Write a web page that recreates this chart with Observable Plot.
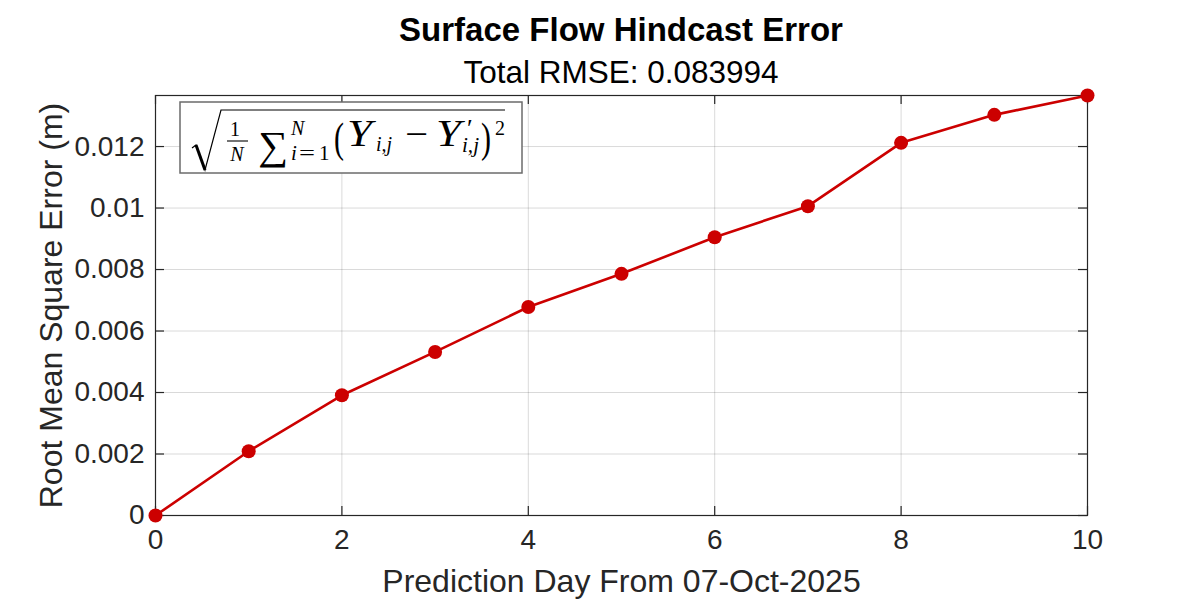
<!DOCTYPE html>
<html>
<head>
<meta charset="utf-8">
<script src="https://cdn.jsdelivr.net/npm/d3@7"></script>
<script src="https://cdn.jsdelivr.net/npm/@observablehq/plot@0.6"></script>
<style>
  html, body { margin: 0; padding: 0; background: #fff; }
  #wrap { position: relative; width: 1200px; height: 600px; overflow: hidden; font-family: 'Liberation Sans', Arial, sans-serif; color: #000; }
  .ttl { position: absolute; left: 155px; width: 932px; text-align: center; white-space: nowrap; }
  #title { top: 13px; font-size: 33px; line-height: 33px; font-weight: bold; }
  #subtitle { top: 57px; font-size: 31.5px; line-height: 31.5px; }
  #formula { position: absolute; left: 179px; top: 101px; }
</style>
</head>
<body>
<div id="wrap">
  <div id="chart"></div>
  <div id="title" class="ttl"></div>
  <div id="subtitle" class="ttl"></div>
  <svg id="formula" width="344" height="74" xmlns="http://www.w3.org/2000/svg"></svg>
</div>
<script>
// ---- data ----
const days = [0, 1, 2, 3, 4, 5, 6, 7, 8, 9, 10];
const rmse = [0, 0.00209, 0.00391, 0.00532, 0.00678, 0.00786, 0.00905, 0.01006, 0.01212, 0.01303, 0.01366];
const xTicks = [0, 2, 4, 6, 8, 10];
const yTicks = [0, 0.002, 0.004, 0.006, 0.008, 0.01, 0.012];
const yTickLabels = ["0", "0.002", "0.004", "0.006", "0.008", "0.01", "0.012"];
const titleText = "Surface Flow Hindcast Error";
const subtitleText = "Total RMSE: 0.083994";
const xLabel = "Prediction Day From 07-Oct-2025";
const yLabel = "Root Mean Square Error (m)";

const data = days.map((d, i) => ({day: d, rmse: rmse[i]}));

const W = 1200, H = 600, mL = 155, mR = 113, mT = 95, mB = 85;
const innerW = W - mL - mR, innerH = H - mT - mB;
const tickLen = 9;
const axisColor = "#262626";
const lineColor = "#cc0000";

const chart = Plot.plot({
  width: W, height: H,
  marginLeft: mL, marginRight: mR, marginTop: mT, marginBottom: mB,
  style: {fontFamily: "'Liberation Sans', Arial, sans-serif", fontSize: "28px", color: axisColor, background: "transparent", overflow: "visible"},
  x: {domain: [0, 10]},
  y: {domain: [0, d3.max(rmse)]},
  marks: [
    Plot.gridX(xTicks, {stroke: "#000", strokeOpacity: 0.15, strokeWidth: 1}),
    Plot.gridY(yTicks, {stroke: "#000", strokeOpacity: 0.15, strokeWidth: 1}),
    Plot.frame({stroke: axisColor, strokeWidth: 1.2}),
    Plot.tickY(yTicks, {y: d => d, insetRight: innerW - tickLen, stroke: axisColor, strokeWidth: 1.2}),
    Plot.tickY(yTicks, {y: d => d, insetLeft: innerW - tickLen, stroke: axisColor, strokeWidth: 1.2}),
    Plot.tickX(xTicks, {x: d => d, insetTop: innerH - tickLen, stroke: axisColor, strokeWidth: 1.2}),
    Plot.tickX(xTicks, {x: d => d, insetBottom: innerH - tickLen, stroke: axisColor, strokeWidth: 1.2}),
    Plot.axisX(xTicks, {tickSize: 0, tickPadding: 14, label: null, fill: axisColor}),
    Plot.axisY(yTicks, {tickSize: 0, tickPadding: 11, label: null, fill: axisColor,
      tickFormat: d => yTickLabels[yTicks.indexOf(d)]}),
    Plot.line(data, {x: "day", y: "rmse", stroke: lineColor, strokeWidth: 2.6}),
    Plot.dot(data, {x: "day", y: "rmse", r: 7, fill: lineColor, stroke: "none"}),
    Plot.text([xLabel], {frameAnchor: "bottom", dy: 66, text: d => d, fontSize: 32, fill: axisColor, lineAnchor: "middle"}),
    Plot.text([yLabel], {frameAnchor: "left", dx: -104, rotate: -90, text: d => d, fontSize: 32, fill: axisColor, textAnchor: "middle", lineAnchor: "middle"})
  ]
});
document.getElementById("chart").appendChild(chart);
document.getElementById("title").textContent = titleText;
document.getElementById("subtitle").textContent = subtitleText;

// ---- formula annotation box ----
const f = d3.select("#formula");
f.append("rect").attr("x", 1).attr("y", 1).attr("width", 342).attr("height", 71)
  .attr("fill", "#fff").attr("stroke", "#6b6b6b").attr("stroke-width", 1.5);
// radical sign
f.append("path").attr("d", "M13,47 L17,44 L26,69 L42,9 L326,9")
  .attr("fill", "none").attr("stroke", "#000").attr("stroke-width", 1.2).attr("stroke-linejoin", "miter");
f.append("path").attr("d", "M17,44 L26,69").attr("stroke", "#000").attr("stroke-width", 3);
// fraction bar
f.append("line").attr("x1", 48).attr("x2", 69).attr("y1", 40).attr("y2", 40).attr("stroke", "#000").attr("stroke-width", 1.1);
const serif = "'Liberation Serif', 'Times New Roman', serif";
const tokens = [
  {t: "1", x: 56, y: 35, s: 20, i: false, a: "middle"},
  {t: "N", x: 58, y: 60, s: 20, i: true, a: "middle"},
  {t: "\u2211", x: 79, y: 58, s: 40, i: false, w: 30},
  {t: "N", x: 112, y: 34, s: 20, i: true},
  {t: "i", x: 112, y: 59, s: 21, i: true},
  {t: "=", x: 120, y: 59, s: 21, i: false, w: 16},
  {t: "1", x: 140, y: 59, s: 21, i: false},
  {t: "(", x: 155, y: 51, s: 42, i: false, w: 10},
  {t: "Y", x: 168, y: 45, s: 38, i: true, w: 25},
  {t: "i,j", x: 197, y: 50, s: 20, i: true, w: 16},
  {t: "\u2212", x: 226, y: 45, s: 36, i: false, w: 23},
  {t: "Y", x: 257, y: 45, s: 38, i: true, w: 25},
  {t: "\u2032", x: 288, y: 36, s: 26, i: false},
  {t: "i,j", x: 283, y: 51, s: 20, i: true, w: 17},
  {t: ")", x: 302, y: 51, s: 42, i: false, w: 10},
  {t: "2", x: 316, y: 34, s: 20, i: false}
];
tokens.forEach(k => {
  const t = f.append("text").attr("x", k.x).attr("y", k.y).attr("font-family", serif)
    .attr("font-size", k.s).attr("font-style", k.i ? "italic" : "normal")
    .attr("text-anchor", k.a || "start").attr("fill", "#000").text(k.t);
  if (k.w) t.attr("textLength", k.w).attr("lengthAdjust", "spacingAndGlyphs");
});
</script>
</body>
</html>
